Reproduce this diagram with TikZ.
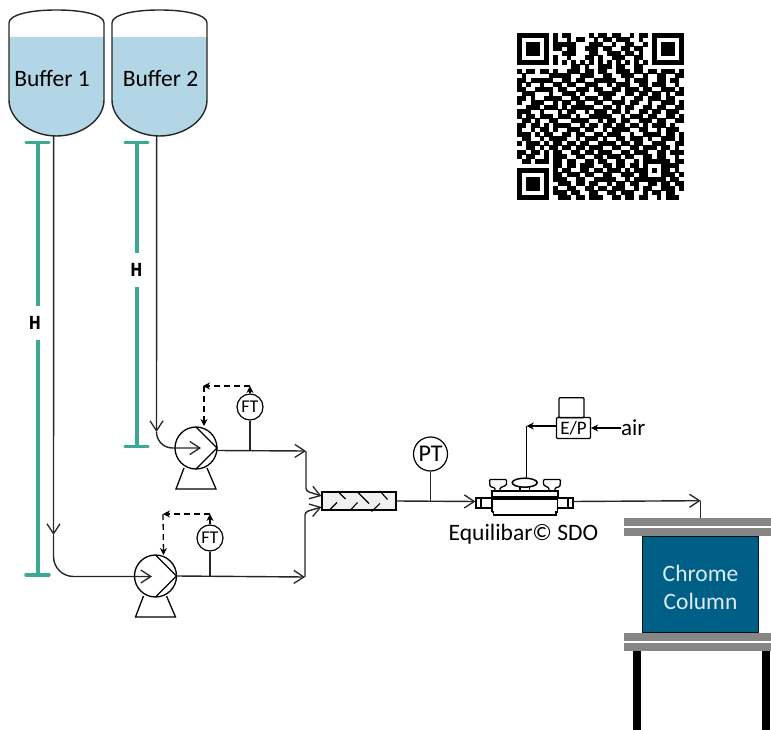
\documentclass[tikz,border=0pt]{standalone}
\usepackage{fontspec}
\setmainfont{Carlito}
\newfontfamily\hfont{DejaVu Sans}
\usetikzlibrary{arrows.meta}

\definecolor{tankblue}{HTML}{B3D6E6}
\definecolor{hgreen}{HTML}{3DA893}
\definecolor{colblue}{HTML}{005F87}
\definecolor{flangegray}{HTML}{868686}
\definecolor{coltext}{HTML}{DCECF3}

\tikzset{
  barb/.tip={Straight Barb[length=10pt,width=13pt,line width=1.3pt]},
  pipe/.style={line width=1.4pt,black!85},
  stem/.style={line width=1.8pt,black!85},
  signal/.style={line width=1.3pt,dash pattern=on 6pt off 4pt,-{Stealth[length=7pt,width=7pt]}},
  wire/.style={line width=1.3pt,-{Stealth[length=7pt,width=7pt]}},
  tag/.style={circle,draw,line width=1.2pt,inner sep=0pt,minimum size=26pt,font=\fontsize{18}{20}\selectfont},
  ruler/.style={line width=4pt,hgreen,{Bar[width=23pt,line width=3.5pt,round]}-{Bar[width=23pt,line width=3.5pt,round]}},
  hmark/.style={fill=white,inner sep=0pt,minimum width=12pt,minimum height=34pt,xscale=0.8,font=\hfont\bfseries\fontsize{18}{20}\selectfont},
  flange/.style={fill=flangegray,inner sep=0pt,minimum width=147pt,minimum height=8pt},
  leg/.style={fill=black,inner sep=0pt,minimum width=8pt,minimum height=79pt},
  tanktext/.style={font=\fontsize{23.5}{26}\selectfont},
  tank/.pic={
    \fill[tankblue] (0,37) -- (95,37) -- (95,100) .. controls (95,120) and (72,136) .. (47.5,136)
      .. controls (23,136) and (0,120) .. (0,100) -- cycle;
    \draw[line width=1.4pt,black!85] (0,23) .. controls (0,15) and (20,10) .. (47.5,10)
      .. controls (75,10) and (95,15) .. (95,23) -- (95,100) .. controls (95,120) and (72,136) .. (47.5,136)
      .. controls (23,136) and (0,120) .. (0,100) -- cycle;
    \coordinate (-out) at (44.7,136);
  },
  pump/.pic={
    \node[circle,draw,line width=1.3pt,inner sep=0pt,minimum size=42pt] (-body) at (0,0) {};
    \draw[line width=1.3pt] (0,-21) -- (21,0) -- (0,21);
    \draw[line width=1.3pt] (-12,20) -- (-20,41) -- (20,41) -- (11,20);
    \coordinate (-out) at (21,0);
    \coordinate (-top) at (8,-21);
  },
}

\newcount\qrcol
\def\qrcell#1{\ifx#1\relax\else\if1#1\fill (\the\qrcol,\r) rectangle +(1.03,1.03);\fi\advance\qrcol by 1 \expandafter\qrcell\fi}

\begin{document}
\begin{tikzpicture}[x=1pt,y=-1pt]
\useasboundingbox (0,0) rectangle (771,730);

% tanks
\pic (tankA) at (9,0) {tank};
\pic (tankB) at (112,0) {tank};
\node[tanktext] (bufferA) at (52,78) {Buffer 1};
\node[tanktext] (bufferB) at (160.5,78) {Buffer 2};

% height bars
\coordinate (rulerAtop) at (37.5,141);
\coordinate (rulerAbot) at (37.5,576.5);
\coordinate (rulerBtop) at (136.5,141);
\coordinate (rulerBbot) at (136.5,448);
\draw[ruler] (rulerAtop) -- (rulerAbot);
\draw[ruler] (rulerBtop) -- (rulerBbot);
\node[hmark] (hA) at (35,323) {H};
\node[hmark] (hB) at (136.5,270) {H};

% pumps
\pic (pumpA) at (155.5,576) {pump};
\pic (pumpB) at (196,448) {pump};
\node[tag] (ftA) at (210,538) {FT};
\node[tag] (ftB) at (250,407) {FT};
\node[tag,minimum size=34pt,font=\fontsize{24}{26}\selectfont] (pt) at (430.5,454) {PT};

% lines from the tanks
\coordinate (dropA) at (53.5,535);
\coordinate (dropB) at (156.5,432);
\coordinate (pumpAin) at (152,576.5);
\coordinate (pumpBin) at (201,448);
\draw[pipe,-barb] (tankA-out) -- (dropA);
\draw[pipe,-barb,rounded corners=20pt] (dropA) |- (pumpAin);
\draw[pipe,-barb] (tankB-out) -- (dropB);
\draw[pipe,-barb,rounded corners=16pt] (dropB) |- (pumpBin);

% mixer
\node[draw,line width=1.3pt,fill=black!6,inner sep=0pt,minimum width=74pt,minimum height=18pt] (mixer) at (359,501) {};
\draw[line width=1.1pt] (337.5,491) -- (345.5,499) (357.5,492) -- (369,503.5) (380,491) -- (387.5,499.5)
  (329,510.5) -- (337,502.5) (350,510.5) -- (357.5,502.5) (371.5,511.5) -- (380,503.5);

% discharge lines
\coordinate (teeA) at (305,577);
\coordinate (teeB) at (306,451);
\coordinate (mixA) at (321.5,507);
\coordinate (mixB) at (321.5,496);
\draw[pipe,-barb] (pumpA-out) -- (teeA);
\draw[pipe,-barb,rounded corners=3pt] (teeA) -- (305,512) -- (mixA);
\draw[pipe,-barb] (pumpB-out) ++(0,2.5) -- (teeB);
\draw[pipe,-barb,rounded corners=3pt] (teeB) -- (306,491) -- (mixB);
\coordinate (ftAbase) at (210,577);
\coordinate (ftBbase) at (250,451);
\draw[stem] (ftA) -- (ftAbase);
\draw[stem] (ftB) -- (ftBbase);

% flow signals
\coordinate (sigAtop) at (210,514);
\coordinate (sigAleft) at (163,514);
\coordinate (sigBtop) at (250,386);
\coordinate (sigBleft) at (203,386);
\draw[wire] (ftA.north) -- (sigAtop);
\draw[signal] (sigAtop) -- (sigAleft);
\draw[signal] (sigAleft) -- (pumpA-top);
\draw[wire] (ftB.north) -- (sigBtop);
\draw[signal] (sigBtop) -- (sigBleft);
\draw[signal] (sigBleft) ++(1,0) -- (204,426);

% valve
\coordinate (valveIn) at (475.5,501.5);
\coordinate (valveOut) at (573,501.5);
\coordinate (ptbase) at (430.5,501.5);
\draw[pipe,-barb] (mixer.east) -- (valveIn);
\draw[stem] (pt) -- (ptbase);
\begin{scope}[line width=1.3pt]
\draw (476,498) rectangle (492,508) (481,498) -- (481,508);
\draw (557.5,498) rectangle (573,508) (568,498) -- (568,508);
\draw[line width=2pt] (492,491) rectangle (557.5,496.5);
\draw (495,496.5) -- (495,499) (524.5,496.5) -- (524.5,499) (553,496.5) -- (553,499);
\draw (492,499) -- (557.5,499) (492,512) -- (493.5,512) -- (493.5,515) -- (556,515) -- (556,512) -- (557.5,512);
\draw (492,499) -- (492,512) (557.5,499) -- (557.5,512);
\draw[rounded corners=1pt] (495,490.5) -- (495,488) -- (490,486.5) -- (489.5,479.5) -- (506.5,479.5) -- (506.5,485) -- (500,488) -- (500,490.5);
\draw[rounded corners=1pt] (555,490.5) -- (555,488) -- (560,486.5) -- (560.5,479.5) -- (543.5,479.5) -- (543.5,485) -- (549,488) -- (549,490.5);
\draw (520,487) -- (520,490.5) (529.5,487) -- (529.5,490.5);
\draw[line width=1.5pt] (524.7,482.7) ellipse (12.5 and 4.5);
\end{scope}
\node[font=\fontsize{23.5}{25}\selectfont] (valveName) at (523.5,534) {Equilibar© SDO};

% E/P
\node[draw,line width=1.3pt,rounded corners=1pt,inner sep=0pt,minimum width=34pt,minimum height=21pt,font=\fontsize{19}{20}\selectfont] (ep) at (573.5,428) {E/P};
\node[draw,line width=1.2pt,rounded corners=1pt,inner sep=0pt,minimum width=25pt,minimum height=20pt] (epTop) at (571.5,407.7) {};
\node[anchor=west,inner sep=0pt,font=\fontsize{23}{26}\selectfont] (air) at (621,428) {air};
\coordinate (sigValve) at (526.7,426);
\coordinate (knob) at (526.7,478.5);
\draw[wire] (air.west) -- (ep.east);
\draw[wire] (ep.west |- sigValve) -- (sigValve);
\draw[line width=1.3pt] (sigValve) -- (knob);

% column
\node[flange] (flangeA) at (697.5,522) {};
\node[flange] (flangeB) at (697.5,532) {};
\node[flange] (flangeC) at (697.5,637) {};
\node[flange] (flangeD) at (697.5,647) {};
\node[fill=colblue,draw=black!80!colblue,line width=1.2pt,inner sep=0pt,minimum width=116pt,minimum height=96.5pt] (column) at (700.5,584.5) {};
\node[text=coltext,align=center,font=\fontsize{23.5}{28}\selectfont] (columnName) at (700.5,587) {Chrome\\Column};
\node[leg] (legA) at (637,690.5) {};
\node[leg] (legB) at (766,690.5) {};
\coordinate (colTurn) at (700.7,500.7);
\draw[pipe,-barb] (valveOut) -- (colTurn);
\draw[pipe] (colTurn) -- (flangeA.north -| colTurn);

% qr code
\begin{scope}[shift={(517,33)},x=4.5pt,y=-4.5pt]
\foreach \qrbits [count=\r from 0] in {
1111111 0 101100001011011001011 0 1111111,
1000001 0 100101100101101110010 0 1000001,
1011101 0 111110001110010011001 0 1011101,
1011101 0 110110011101100110110 0 1011101,
1011101 0 001110001100111011010 0 1011101,
1000001 0 100100011010011100110 0 1000001,
1111111 0 101010101010101010101 0 1111111,
0000000 0 000011010011101100110 0 0000000,
10110 11010 01110 11011 00111 01101 10111 01,
01000 00111 11001 11001 10011 10010 01100 11,
11011 11100 11011 00111 11001 01110 01101 10,
10100 10011 01100 11100 10111 00110 11100 10,
11001 11101 10011 10110 01101 11011 00111 01,
01110 00100 11101 00011 11001 10110 11010 11,
11010 01111 00110 11101 10010 01101 11011 00,
10011 10010 11011 00110 01110 11001 00111 01,
00111 01110 10111 11001 10101 10011 01100 11,
11100 10001 01100 10111 01101 00110 11011 10,
10110 11101 11010 01111 10010 11101 10011 01,
01101 00110 00111 10010 11011 00111 01100 11,
11011 01011 11001 01101 10110 11010 11101 00,
10010 11010 01110 11001 01111 00110 01011 10,
11101 01100 11011 00110 11100 10011 11011 01,
01100 10111 10010 11101 00110 11101 00111 01,
10111 01011 01101 10011 11011 01100 11100 11,
00110 10110 11011 01110 01100 11011 10110 10,
11011 01011 00110 11011 10011 01110 01101 11,
10110 01011 10011 00110 11101 10011 01100 10,
01101 11011 01100 11011 00110 01011 11110 11,
00000 00011 01101 11001 10110 11010 00111 10,
11111 11010 11001 10110 11101 01110 10110 10,
10000 01011 01110 11001 10011 10110 00111 01,
10111 01011 10011 00111 11001 01111 11101 10,
10111 01001 11011 01100 10110 11001 10110 11,
10111 01010 01100 11011 01110 01011 00111 01,
10000 01011 10110 01100 11011 10010 11011 00,
11111 11001 11011 01110 01101 10110 01011 10}
{\qrcol=0 \expandafter\qrcell\qrbits\relax}
\end{scope}
\end{tikzpicture}
\end{document}
